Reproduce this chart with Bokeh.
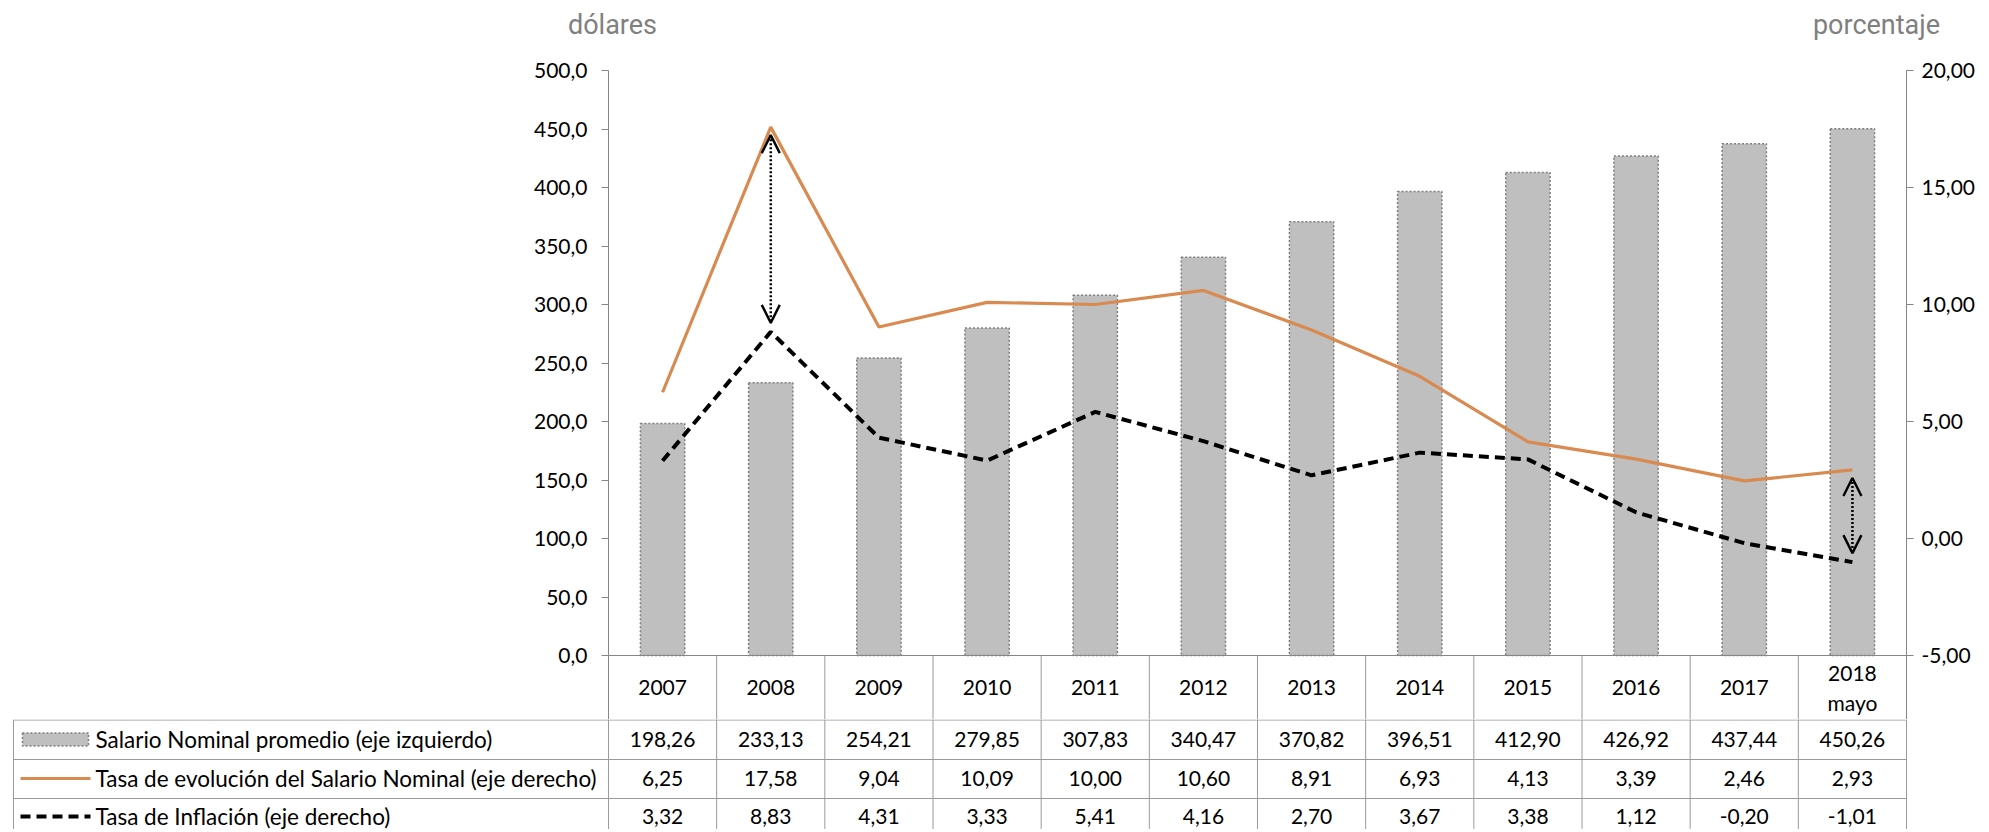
from bokeh.plotting import figure
from bokeh.models import Range1d, LinearAxis, FixedTicker, Span, Arrow, OpenHead, ColumnDataSource
from bokeh.embed import file_html
from bokeh.resources import INLINE
from bokeh.core.properties import value

# ---------------- data ----------------
years = ["2007", "2008", "2009", "2010", "2011", "2012", "2013", "2014",
         "2015", "2016", "2017", "2018\nmayo"]
salario = [198.26, 233.13, 254.21, 279.85, 307.83, 340.47, 370.82, 396.51,
           412.90, 426.92, 437.44, 450.26]
evolucion = [6.25, 17.58, 9.04, 10.09, 10.00, 10.60, 8.91, 6.93, 4.13, 3.39, 2.46, 2.93]
inflacion = [3.32, 8.83, 4.31, 3.33, 5.41, 4.16, 2.70, 3.67, 3.38, 1.12, -0.20, -1.01]
series_names = ["Salario Nominal promedio (eje izquierdo)",
                "Tasa de evolución del Salario Nominal (eje derecho)",
                "Tasa de Inflación (eje derecho)"]
left_ticks = [0, 50, 100, 150, 200, 250, 300, 350, 400, 450, 500]
left_tick_labels = ["0,0", "50,0", "100,0", "150,0", "200,0", "250,0", "300,0",
                    "350,0", "400,0", "450,0", "500,0"]
right_ticks = [-5, 0, 5, 10, 15, 20]
right_tick_labels = ["-5,00", "0,00", "5,00", "10,00", "15,00", "20,00"]
left_title = "dólares"
right_title = "porcentaje"
arrow_years = ["2008", "2018\nmayo"]

# ---------------- style / layout ----------------
FONT = "Lato"
FS = "21px"
LEG_FS = "22.5px"
TFONT = "Roboto"
ORANGE = "#D98A50"
AXIS_C = "#868686"
GRID_C = "#9A9A9A"
BAR_FILL = "#BFBFBF"
BAR_LINE = "#7F7F7F"

n = len(years)
idx = list(range(n))
W = 1985
BL, BT = 608, 12
FRAME_R = 1906
BR = W - FRAME_R
PLOT_H = 585               # 0 .. 500 on the left axis
ROW_H = 64                 # category (year) row under the zero line
ZERO = BT + PLOT_H         # zero line, px from top of chart figure
HA = ZERO + ROW_H
HT = 58                    # titles strip
HB = 110                   # table strip
lmax = left_ticks[-1]
rmin, rmax = right_ticks[0], right_ticks[-1]
lppu = PLOT_H / lmax
rppu = PLOT_H / (rmax - rmin)
l_start = -ROW_H / lppu
r_start = rmin - ROW_H / rppu
frame_w = W - BL - BR
ppc = frame_w / n

def cat(px):
    """figure-x pixel (full-width figures) -> category coordinate"""
    return -0.5 + (px - BL) / ppc

xb0, xb1 = cat(0), cat(W)

def fmt2(v):
    return f"{v:.2f}".replace(".", ",")

# ---------------- titles strip ----------------
tt = figure(width=W, height=HT, x_range=Range1d(xb0, xb1), y_range=Range1d(HT, 0),
            min_border=0, x_axis_location=None, y_axis_location=None,
            toolbar_location=None, output_backend="svg")
tt.outline_line_color = None
tt.grid.visible = False
tt.text(x=[cat(612), cat(1876)], y=[24, 24], text=[left_title, right_title],
        text_align="center", text_baseline="middle", text_font=value(TFONT),
        text_font_size="27px", text_color="#808080")

# ---------------- chart figure ----------------
p = figure(width=W, height=HA, x_range=Range1d(-0.5, n - 0.5),
           y_range=Range1d(l_start, lmax),
           min_border_left=BL, min_border_right=BR, min_border_top=BT,
           min_border_bottom=0, x_axis_location=None,
           toolbar_location=None, output_backend="svg")
p.outline_line_color = None
p.grid.visible = False
p.extra_y_ranges = {"right": Range1d(r_start, rmax)}

def style_axis(ax, standoff):
    ax.axis_line_color = AXIS_C
    ax.major_tick_line_color = AXIS_C
    ax.major_tick_out = 7
    ax.major_tick_in = 0
    ax.minor_tick_line_color = None
    ax.major_label_text_font = FONT
    ax.major_label_text_font_size = FS
    ax.major_label_text_color = "black"
    ax.major_label_standoff = standoff

ly = p.yaxis[0]
ly.ticker = FixedTicker(ticks=left_ticks)
ly.major_label_overrides = dict(zip(left_ticks, left_tick_labels))
style_axis(ly, 14)

ry = LinearAxis(y_range_name="right", ticker=FixedTicker(ticks=right_ticks))
ry.major_label_overrides = dict(zip(right_ticks, right_tick_labels))
style_axis(ry, 8)
p.add_layout(ry, "right")

p.add_layout(Span(location=0, dimension="width", line_color=AXIS_C, line_width=1))

# bars
p.vbar(x=idx, top=salario, bottom=0, width=0.41, fill_color=BAR_FILL,
       line_color=BAR_LINE, line_width=1.5, line_dash="2 2")

# lines
p.line(idx, evolucion, y_range_name="right", line_color=ORANGE, line_width=3.2)
p.line(idx, inflacion, y_range_name="right", line_color="black", line_width=4,
       line_dash="10 6")

# arrows between the two rates
a_idx = [years.index(y) for y in arrow_years]
top_gap = 8 / rppu
bot_gap = 9 / rppu
asrc = ColumnDataSource(dict(
    x=[idx[i] for i in a_idx],
    ys=[evolucion[i] - top_gap for i in a_idx],
    ye=[inflacion[i] + bot_gap for i in a_idx]))
p.add_layout(Arrow(x_start="x", y_start="ys", x_end="x", y_end="ye", source=asrc,
                   y_range_name="right", line_color="black", line_width=2.5,
                   line_dash="2 2",
                   start=OpenHead(size=18, line_width=2.4, line_color="black"),
                   end=OpenHead(size=18, line_width=2.4, line_color="black")))

# year row (category row of the data table)
p.segment(x0=[i + 0.5 for i in idx[:-1]], y0=0, x1=[i + 0.5 for i in idx[:-1]],
          y1=l_start, line_color=GRID_C, line_width=1)
p.text(x=idx, y=[l_start / 2] * n, text=years, text_align="center",
       text_baseline="middle", text_font=value(FONT), text_font_size=FS,
       text_color="black", text_line_height=1.2)

# ---------------- table figure ----------------
t = figure(width=W, height=HB, x_range=Range1d(xb0, xb1), y_range=Range1d(HB, 0),
           min_border=0, x_axis_location=None, y_axis_location=None,
           toolbar_location=None, output_backend="svg")
t.outline_line_color = None
t.grid.visible = False

x_left = cat(13)
row_tops = [0.5, 40, 79]
row_mid = [20, 59, 97]

t.segment(x0=[x_left] * 3, y0=row_tops, x1=[n - 0.5] * 3, y1=row_tops,
          line_color=GRID_C, line_width=1)
vx = [x_left] + [i - 0.5 for i in range(n + 1)]
t.segment(x0=vx, y0=[0] * len(vx), x1=vx, y1=[HB] * len(vx),
          line_color=GRID_C, line_width=1)

rows = [salario, evolucion, inflacion]
tx, ty, tv = [], [], []
for r, vals in enumerate(rows):
    for i, v in enumerate(vals):
        tx.append(idx[i]); ty.append(row_mid[r]); tv.append(fmt2(v))
t.text(x=tx, y=ty, text=tv, text_align="center", text_baseline="middle",
       text_font=value(FONT), text_font_size=FS, text_color="black")

# legend column
t.text(x=[cat(95)] * 3, y=row_mid, text=series_names, text_align="left",
       text_baseline="middle", text_font=value(FONT), text_font_size=LEG_FS,
       text_color="black")
t.rect(x=[cat(55)], y=[row_mid[0]], width=66, height=13, width_units="screen",
       height_units="screen", fill_color=BAR_FILL, line_color=BAR_LINE,
       line_width=1.5, line_dash="2 2")
t.segment(x0=[cat(20)], y0=[row_mid[1]], x1=[cat(90)], y1=[row_mid[1]],
          line_color=ORANGE, line_width=3.2)
t.segment(x0=[cat(20)], y0=[row_mid[2]], x1=[cat(90)], y1=[row_mid[2]],
          line_color="black", line_width=4, line_dash="10 6")

open("out.html", "w").write(file_html([tt, p, t], INLINE))
